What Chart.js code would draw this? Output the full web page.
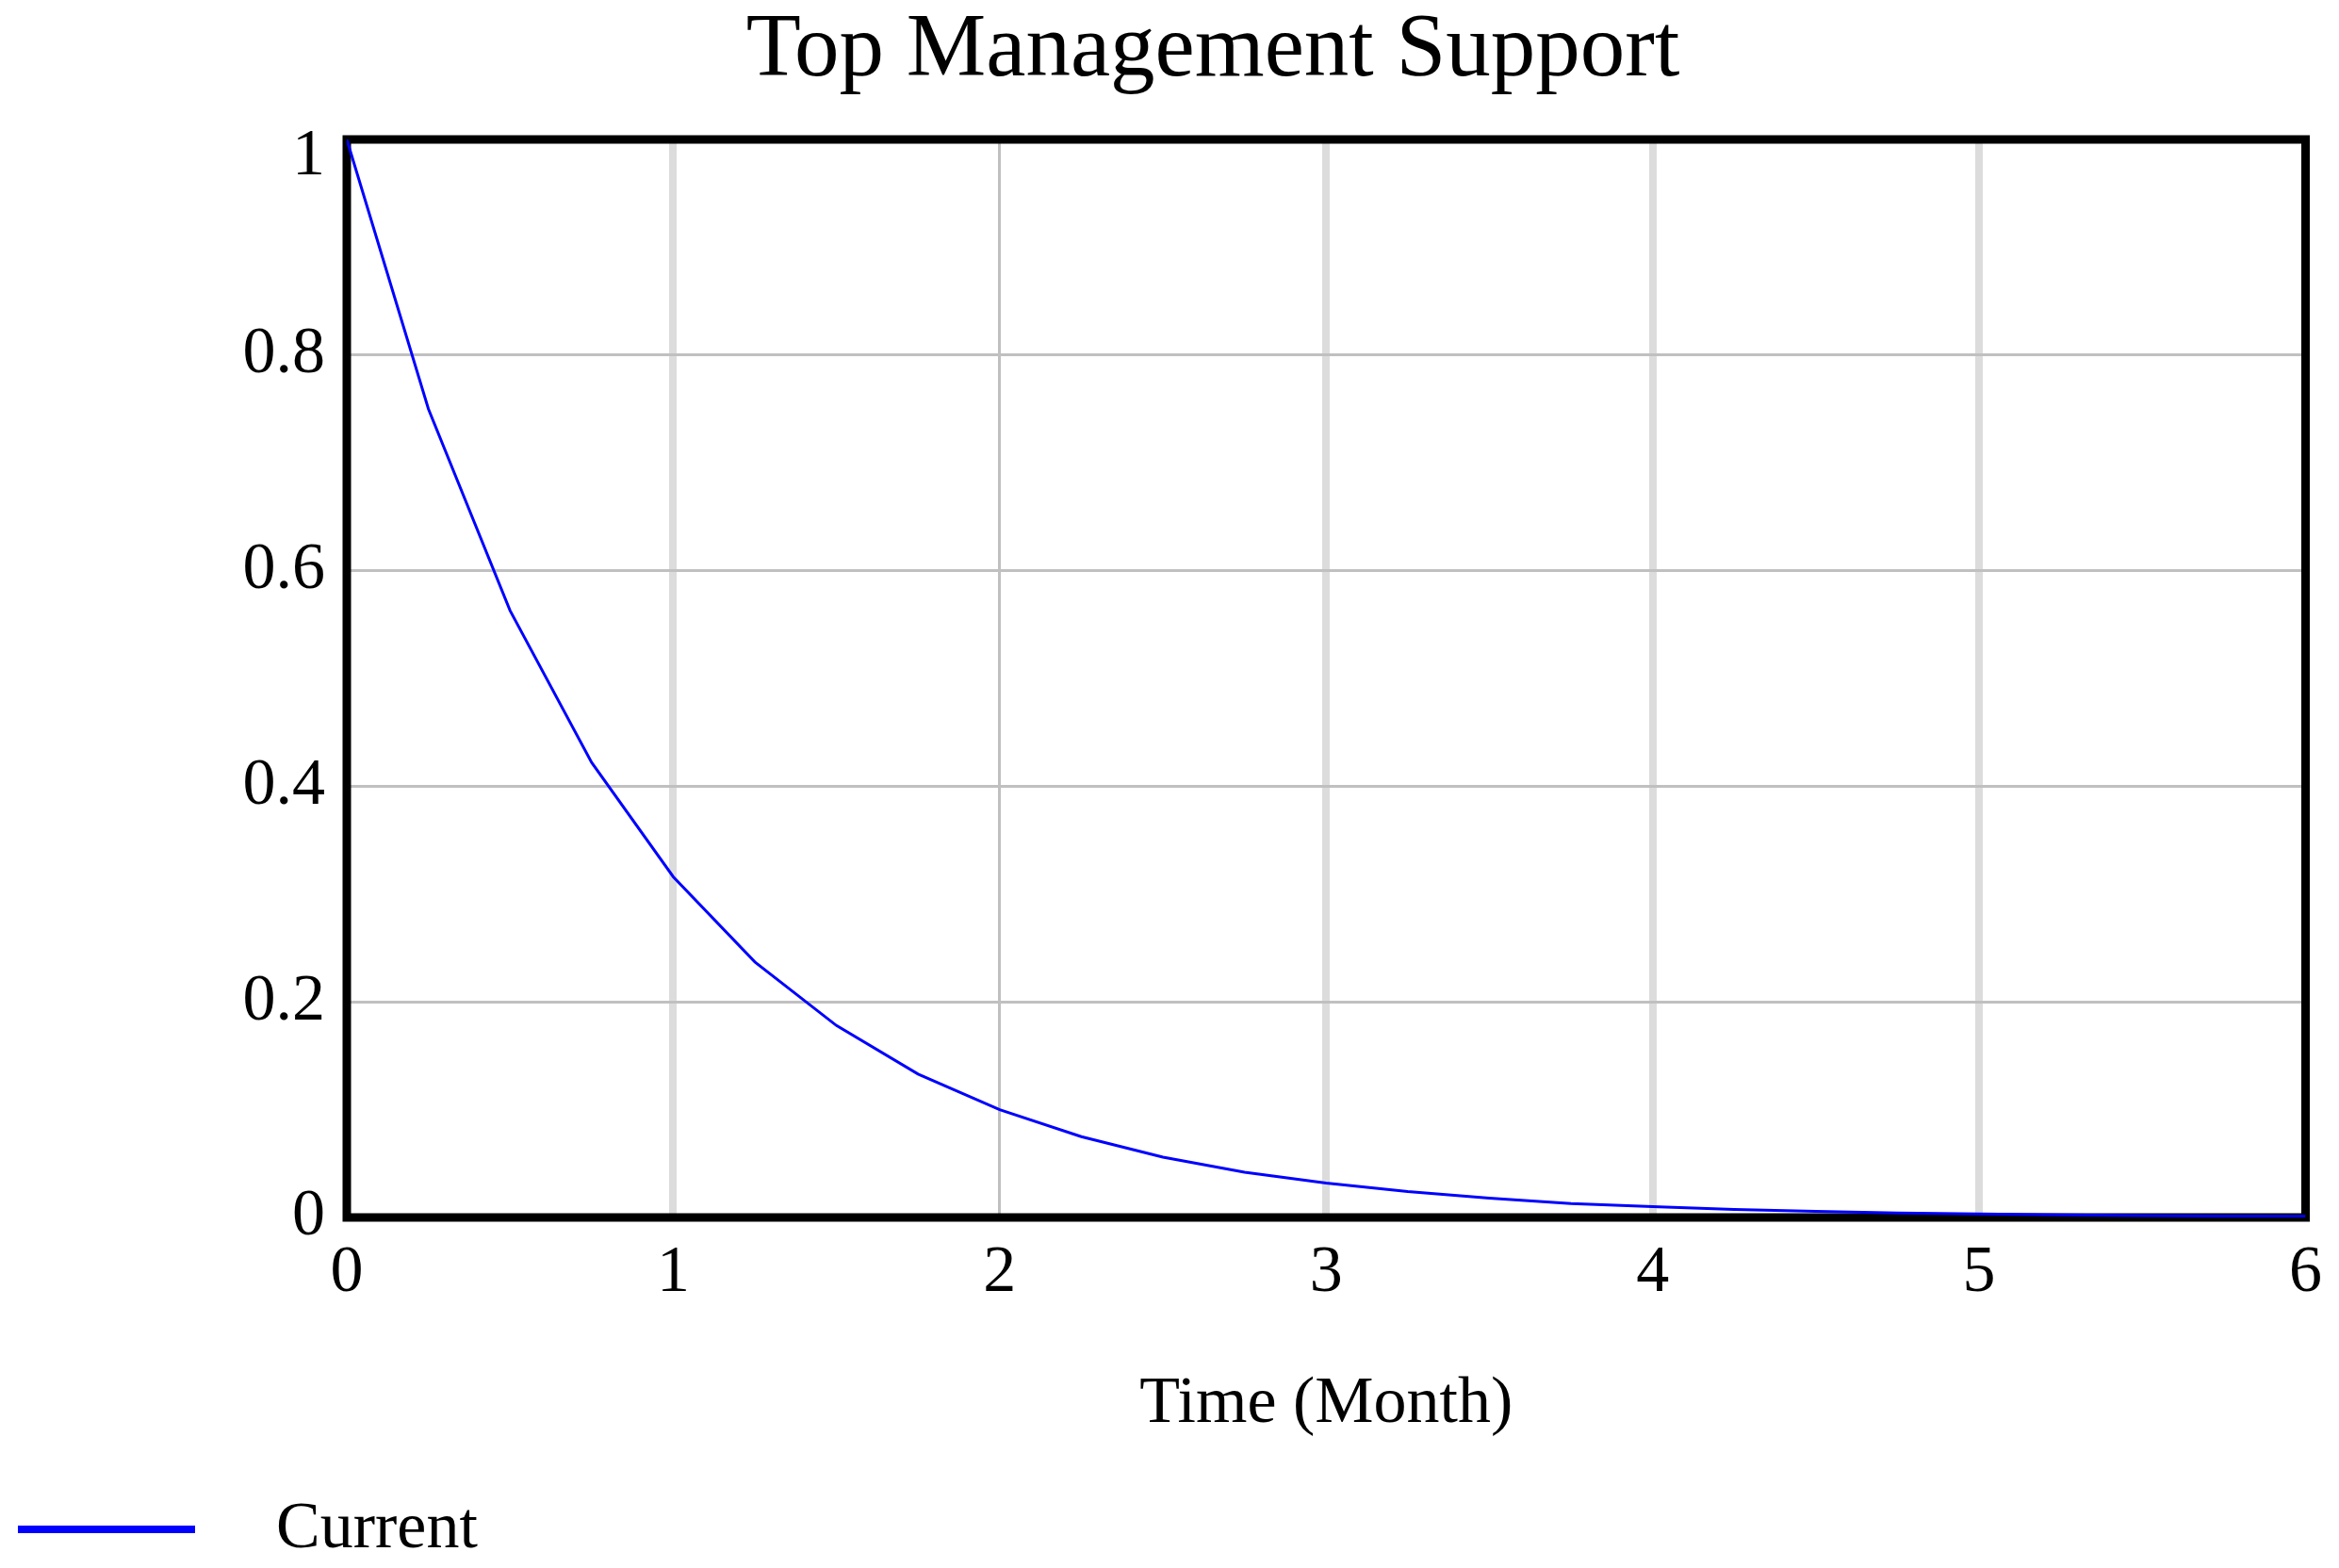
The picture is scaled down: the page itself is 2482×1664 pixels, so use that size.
<!DOCTYPE html>
<html>
<head>
<meta charset="utf-8">
<script src="https://cdn.jsdelivr.net/npm/chart.js@4/dist/chart.umd.min.js"></script>
<style>
html,body{margin:0;padding:0;background:#ffffff;overflow:hidden;}
canvas{display:block;}
</style>
</head>
<body>
<canvas id="c" width="2482" height="1664"></canvas>
<script>
// ---- data ----
const chartTitle = 'Top Management Support';
const xAxisTitle = 'Time (Month)';
const seriesName = 'Current';
const timeMonths = [0, 0.25, 0.5, 0.75, 1, 1.25, 1.5, 1.75, 2, 2.25, 2.5, 2.75, 3, 3.25, 3.5, 3.75, 4, 4.25, 4.5, 4.75, 5, 5.25, 5.5, 5.75, 6];
const currentValues = [1, 0.75, 0.563, 0.422, 0.316, 0.237, 0.178, 0.133, 0.1, 0.075, 0.056, 0.042, 0.032, 0.024, 0.018, 0.013, 0.01, 0.0075, 0.0056, 0.0042, 0.0032, 0.0024, 0.0018, 0.0013, 0.001];
const xTickLabels = ['0', '1', '2', '3', '4', '5', '6'];
const yTickLabels = ['0', '0.2', '0.4', '0.6', '0.8', '1'];

// ---- styling ----
const FONT = "'Liberation Serif', 'Times New Roman', serif";
const lineBlue = '#0000ff';

const legendSymbol = document.createElement('canvas');
legendSymbol.width = 252;
legendSymbol.height = 30;
(function () {
  const g = legendSymbol.getContext('2d');
  g.fillStyle = lineBlue;
  g.fillRect(13, 10, 188, 8);
})();

const framePlugin = {
  id: 'frame',
  beforeDatasetsDraw(chart) {
    const a = chart.chartArea;
    const ctx = chart.ctx;
    ctx.save();
    ctx.strokeStyle = '#000000';
    ctx.lineWidth = 9;
    ctx.lineJoin = 'miter';
    ctx.strokeRect(a.left, a.top, a.right - a.left, a.bottom - a.top);
    ctx.restore();
  }
};

const titleShiftPlugin = {
  id: 'titleShift',
  afterLayout(chart) {
    if (chart.titleBlock) { chart.titleBlock.left = 123; }
  }
};

const points = timeMonths.map((t, i) => ({ x: t, y: currentValues[i] }));

Chart.defaults.font.family = FONT;
Chart.defaults.color = '#000000';

new Chart(document.getElementById('c'), {
  type: 'line',
  data: {
    datasets: [{
      label: seriesName,
      data: points,
      borderColor: lineBlue,
      backgroundColor: lineBlue,
      borderWidth: 3,
      pointRadius: 0,
      tension: 0,
      fill: false
    }]
  },
  options: {
    responsive: false,
    animation: false,
    devicePixelRatio: 1,
    layout: { padding: { left: 0, right: 31, top: 0, bottom: -5 } },
    plugins: {
      title: {
        display: true,
        text: chartTitle,
        color: '#000000',
        font: { family: FONT, size: 95, weight: 'normal', lineHeight: 1 },
        padding: { top: 8, bottom: 45 }
      },
      legend: {
        display: true,
        position: 'bottom',
        align: 'start',
        labels: {
          usePointStyle: true,
          pointStyle: legendSymbol,
          pointStyleWidth: 252,
          padding: 6,
          color: '#000000',
          font: { family: FONT, size: 70 }
        }
      },
      tooltip: { enabled: false }
    },
    scales: {
      x: {
        type: 'linear',
        position: 'bottom',
        min: 0,
        max: 6,
        afterFit(scale) { scale.height = 291; },
        ticks: {
          stepSize: 1,
          autoSkip: false,
          maxRotation: 0,
          padding: 18,
          color: '#000000',
          font: { family: FONT, size: 70 },
          callback: (v) => xTickLabels[Math.round(v)]
        },
        grid: {
          drawTicks: false,
          color: (c) => (c.tick && c.tick.value === 2) ? '#c0c0c0' : '#dcdcdc',
          lineWidth: (c) => (c.tick && c.tick.value === 2) ? 3 : 8
        },
        border: { display: false },
        title: {
          display: true,
          text: xAxisTitle,
          color: '#000000',
          font: { family: FONT, size: 70 },
          padding: { top: 0, bottom: 50 }
        }
      },
      y: {
        type: 'linear',
        position: 'left',
        min: 0,
        max: 1,
        afterFit(scale) { scale.width = 368; },
        ticks: {
          stepSize: 0.2,
          autoSkip: false,
          padding: 23,
          color: '#000000',
          font: (c) => ({
            family: FONT,
            size: 70,
            lineHeight: (c.tick && Math.round(c.tick.value * 5) === 5) ? '38px' : 1.2
          }),
          callback: (v) => {
            const i = Math.round(v * 5);
            return i === 5 ? ['', yTickLabels[i]] : yTickLabels[i];
          }
        },
        grid: {
          drawTicks: false,
          color: '#c0c0c0',
          lineWidth: 3
        },
        border: { display: false }
      }
    }
  },
  plugins: [framePlugin, titleShiftPlugin]
});
</script>
</body>
</html>
